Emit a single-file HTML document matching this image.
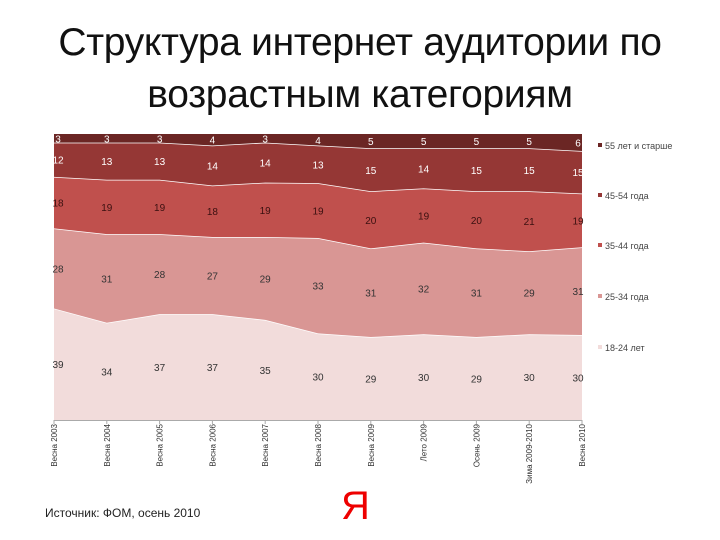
<!DOCTYPE html>
<html><head><meta charset="utf-8"><style>
body{margin:0;background:#fff;width:720px;height:540px;overflow:hidden;font-family:"Liberation Sans","DejaVu Sans",sans-serif}
.t{position:absolute;left:0;width:720px;text-align:center;font-size:39px;color:#111;line-height:52px;letter-spacing:-0.3px}
</style></head><body>
<div class="t" style="top:17px">Структура интернет аудитории по<br>возрастным категориям</div>
<svg width="720" height="540" style="position:absolute;left:0;top:0" id="c"></svg>
<div style="position:absolute;left:45px;top:506px;font-size:12px;color:#222">Источник: ФОМ, осень 2010</div>
<div style="position:absolute;left:341px;top:484px;font-size:40px;color:#e00;font-family:'Liberation Sans',sans-serif">Я</div>
<script>
const categories=["Весна 2003","Весна 2004","Весна 2005","Весна 2006","Весна 2007","Весна 2008","Весна 2009","Лето 2009","Осень 2009","Зима 2009-2010","Весна 2010"];
const s1824=[39,34,37,37,35,30,29,30,29,30,30];
const s2534=[28,31,28,27,29,33,31,32,31,29,31];
const s3544=[18,19,19,18,19,19,20,19,20,21,19];
const s4554=[12,13,13,14,14,13,15,14,15,15,15];
const s55=[3,3,3,4,3,4,5,5,5,5,6];
const seriesNames=["18-24 лет","25-34 года","35-44 года","45-54 года","55 лет и старше"];
const series=[s1824,s2534,s3544,s4554,s55];
const colors=["#f2dcdb","#d99694","#c0504d","#953735","#6b2624"];
const textCol=["#333","#333","#3a1010","#fff","#fff"];
const X0=54,X1=582,Y0=420,Y1=134;
const NS="http://www.w3.org/2000/svg",svg=document.getElementById('c');
const x=i=>X0+i*(X1-X0)/(categories.length-1);
const y=p=>Y0-p/100*(Y0-Y1);
const tot=categories.map((_,i)=>series.reduce((a,s)=>a+s[i],0));
let cum=categories.map(()=>0);
series.forEach((s,k)=>{
  const lo=cum.slice();const hi=cum.map((c,i)=>c+s[i]/tot[i]*100);
  let d="M"+categories.map((_,i)=>x(i)+","+y(hi[i])).join("L");
  d+="L"+categories.map((_,i)=>x(i)+","+y(lo[i])).reverse().join("L")+"Z";
  const p=document.createElementNS(NS,'path');
  p.setAttribute('d',d);p.setAttribute('fill',colors[k]);
  
  
  svg.appendChild(p);
  const l=document.createElementNS(NS,'polyline');
  l.setAttribute('points',categories.map((_,i)=>x(i)+","+y(hi[i])).join(" "));
  l.setAttribute('fill','none');l.setAttribute('stroke','#fff');l.setAttribute('stroke-width',k<4?1.5:0);
  
  
  svg.appendChild(l);
  s.forEach((v,i)=>{
    const t=document.createElementNS(NS,'text');
    t.setAttribute('x',i==0?x(i)+4:(i==categories.length-1?x(i)-4:x(i)));
    t.setAttribute('y',y((lo[i]+hi[i])/2)+4);
    t.setAttribute('text-anchor','middle');t.setAttribute('font-size','10');t.setAttribute('fill',textCol[k]);
    
    
    t.textContent=v;svg.appendChild(t);
  });
  cum=hi;
  const ly=[348,297,246,196,146][k];
  const r=document.createElementNS(NS,'rect');
  r.setAttribute('x',598);r.setAttribute('y',ly-3);r.setAttribute('width',4);r.setAttribute('height',4);r.setAttribute('fill',colors[k]);
  
  
  svg.appendChild(r);
  const lt=document.createElementNS(NS,'text');
  lt.setAttribute('x',605);lt.setAttribute('y',ly+3);lt.setAttribute('font-size','9');lt.setAttribute('fill','#444');
  
  
  lt.textContent=seriesNames[k];svg.appendChild(lt);
});
const ax=document.createElementNS(NS,'line');
ax.setAttribute('x1',X0);ax.setAttribute('x2',X1);ax.setAttribute('y1',Y0+0.5);ax.setAttribute('y2',Y0+0.5);ax.setAttribute('stroke','#aaa');


svg.appendChild(ax);
categories.forEach((c,i)=>{
  const tk=document.createElementNS(NS,'line');
  tk.setAttribute('x1',x(i));tk.setAttribute('x2',x(i));tk.setAttribute('y1',Y0);tk.setAttribute('y2',Y0+4);tk.setAttribute('stroke','#aaa');
  
  
  svg.appendChild(tk);
  const t=document.createElementNS(NS,'text');
  t.setAttribute('transform','translate('+(x(i)+3)+','+(Y0+4)+') rotate(-90)');
  t.setAttribute('text-anchor','end');t.setAttribute('font-size','8');t.setAttribute('fill','#333');
  
  
  t.textContent=c;svg.appendChild(t);
});
</script>
</body></html>
